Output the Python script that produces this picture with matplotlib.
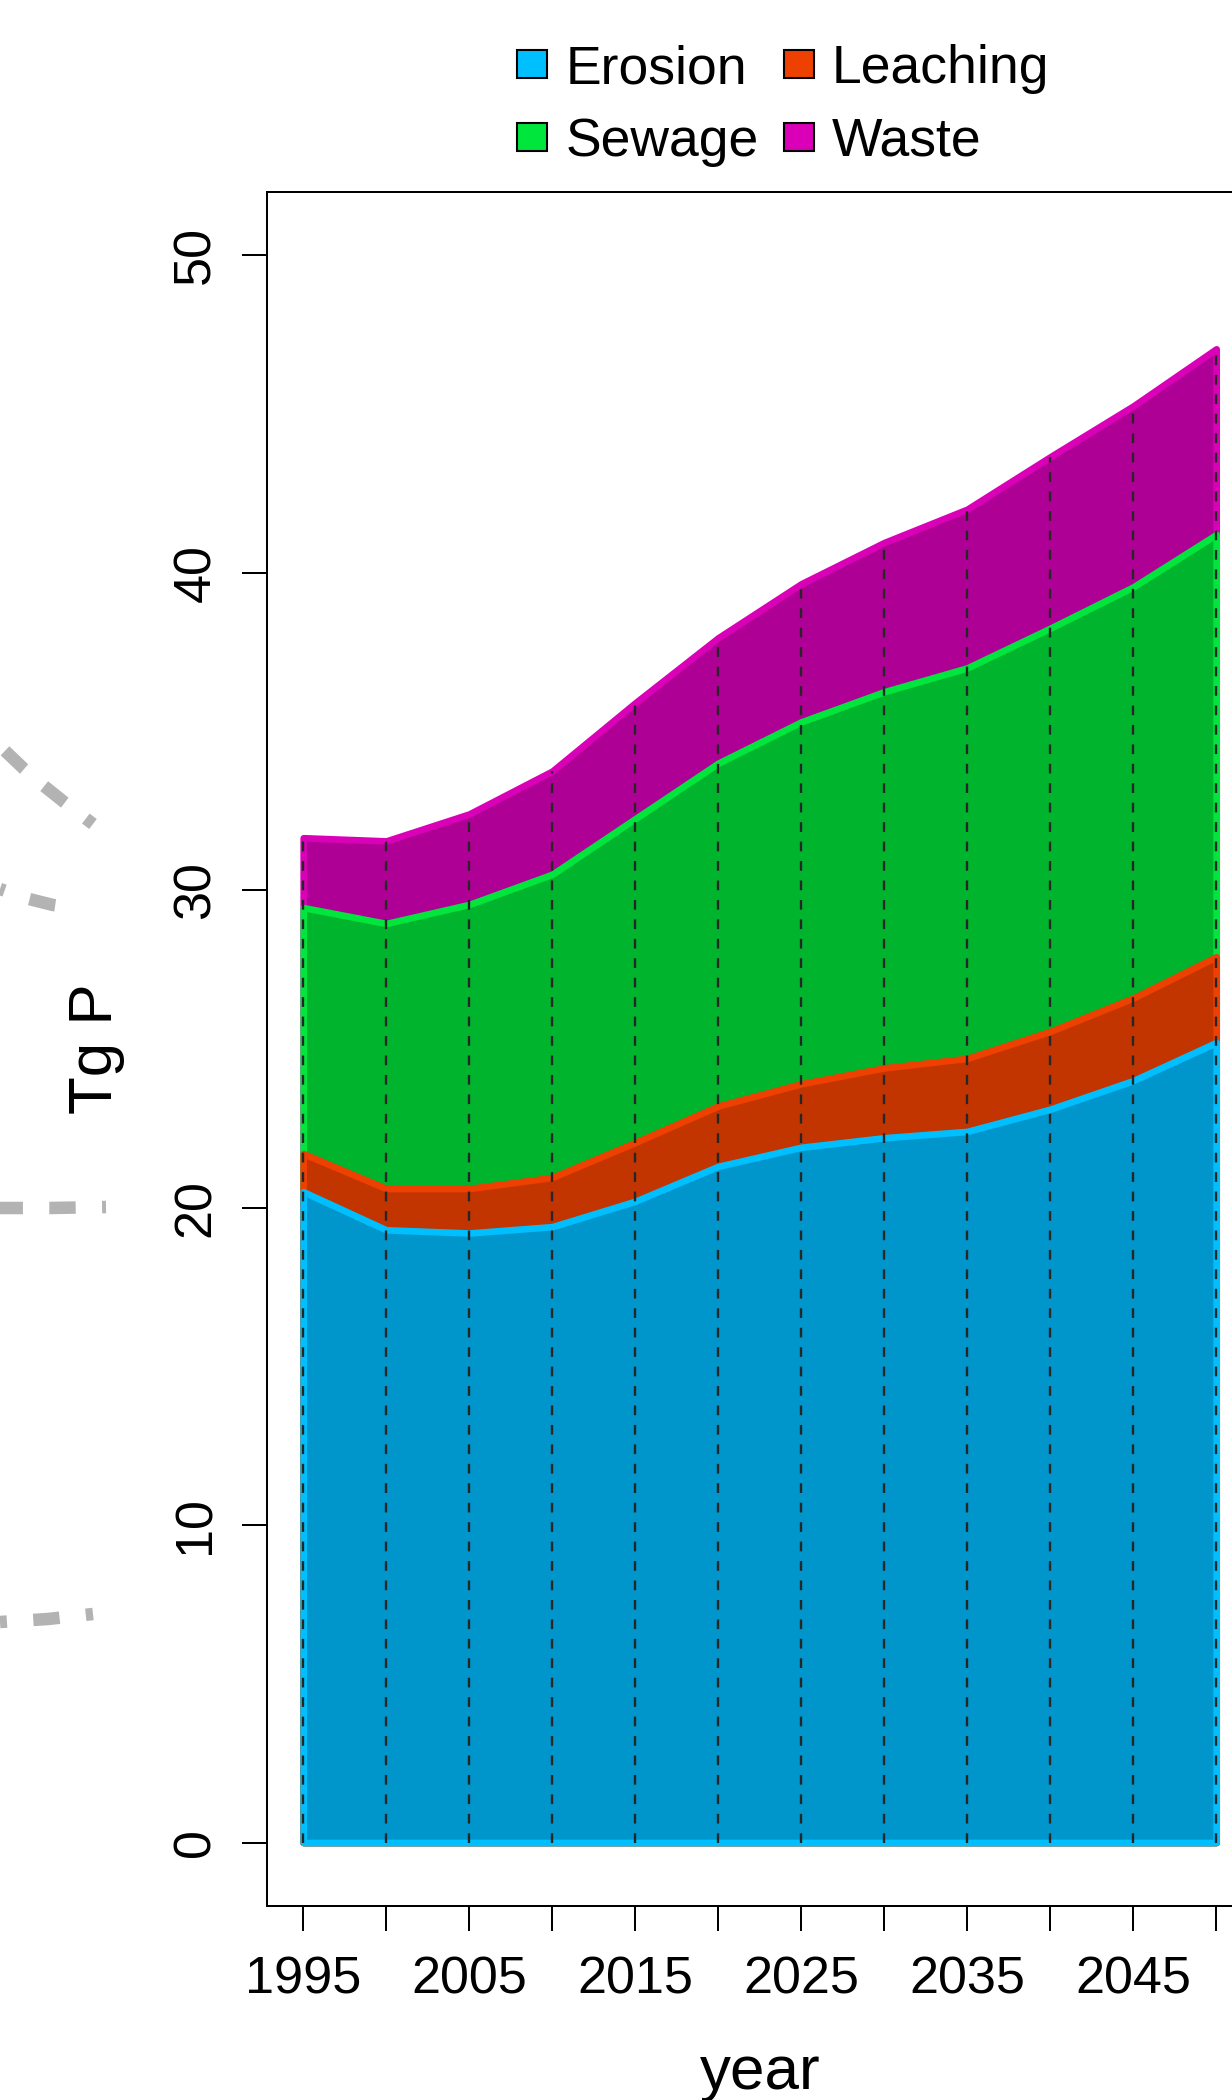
import numpy as np
import matplotlib.pyplot as plt
from matplotlib.patches import Patch

plt.rcParams['font.family'] = ['Liberation Sans', 'DejaVu Sans']
plt.rcParams['lines.scale_dashes'] = False

# phosphorus loads by source (Tg P), 1995-2050
years = np.arange(1995, 2051, 5)
erosion = np.array([20.5, 19.3, 19.2, 19.4, 20.2, 21.3, 21.9, 22.2, 22.4, 23.1, 24.0, 25.2])
leaching = np.array([1.2, 1.3, 1.4, 1.55, 1.85, 1.9, 2.0, 2.2, 2.3, 2.45, 2.6, 2.7])
sewage = np.array([7.75, 8.35, 8.95, 9.55, 10.2, 10.8, 11.4, 11.85, 12.3, 12.7, 12.95, 13.3])
waste = np.array([2.2, 2.6, 2.85, 3.25, 3.65, 3.95, 4.35, 4.7, 5.0, 5.4, 5.7, 5.85])

sources = ["Erosion", "Leaching", "Sewage", "Waste"]
fill_cols = ["#0096CC", "#C23400", "#00B52D", "#AF0095"]
line_cols = ["#00BFFF", "#EE4000", "#00E63C", "#D900B8"]

y_ticks = [0, 10, 20, 30, 40, 50]
x_ticks = np.arange(1995, 2051, 5)
x_labels = [str(y) if (y - 1995) % 10 == 0 and y < 2050 else "" for y in x_ticks]

# grey dashed arcs from the neighbouring panel (figure pixels)
arc_a_x = [0, 23, 44, 64, 93]
arc_a_y = [746, 768, 786, 802, 824]
arc_b_x = [0, 29, 53, 60]
arc_b_y = [889, 899, 905, 906]
arc_c_x = [0, 50, 106]
arc_c_y = [1208, 1208, 1207]
arc_d_x = [0, 48, 93]
arc_d_y = [1622, 1619, 1614]
arc_offsets = [33, 15.5, 2.5, 14]

W, H = 1232, 2100
fig = plt.figure(figsize=(W / 100, H / 100), dpi=100)

bg = fig.add_axes([0, 0, 1, 1], zorder=0)
bg.set_xlim(0, W)
bg.set_ylim(H, 0)
bg.axis("off")
for xs, ys, off in zip([arc_a_x, arc_b_x, arc_c_x, arc_d_x],
                       [arc_a_y, arc_b_y, arc_c_y, arc_d_y], arc_offsets):
    bg.plot(xs, ys, color="#B3B3B3", lw=9, solid_capstyle="butt",
            dash_capstyle="butt", linestyle=(off, (19, 19)))

ax = fig.add_axes([266.7 / W, 194 / H, 986 / W, (1906 - 191.7) / H], zorder=1)
ax.set_xlim(1992.8, 2052.2)
ax.set_ylim(-2, 52)

stack = np.cumsum(np.vstack([erosion, leaching, sewage, waste]), axis=0)
# draw the tallest layer first so each lower layer sits on top
for i in range(3, -1, -1):
    ax.fill_between(years, 0, stack[i], facecolor=fill_cols[i],
                    edgecolor=line_cols[i], lw=4.8, zorder=2 + (3 - i))

ax.vlines(years, 0, stack[3], colors="#262626", lw=1.7,
          linestyles=[(0, (7, 7))], zorder=10)

ax.set_yticks(y_ticks, [str(v) for v in y_ticks], rotation=90,
              rotation_mode="anchor", ha="center", va="baseline")
ax.set_xticks(x_ticks, x_labels, va="baseline")
ax.tick_params(axis="y", length=18, width=1.44, pad=23, labelsize=37.5)
ax.tick_params(axis="x", length=18, width=1.44, pad=45, labelsize=37.5)
for s in ax.spines.values():
    s.set_linewidth(1.44)

fig.text(760 / W, 1 - 2089 / H, "year", ha="center", va="baseline", fontsize=44.6)
fig.text(112 / W, 1 - 1049 / H, "Tg P", rotation=90, rotation_mode="anchor",
         ha="center", va="baseline", fontsize=44.6)

handles = [Patch(facecolor=line_cols[i], edgecolor="black", lw=1.5) for i in [0, 2, 1, 3]]
labels = [sources[i] for i in [0, 2, 1, 3]]
fig.legend(handles, labels, ncol=2, loc="upper left",
           bbox_to_anchor=(517 / W, 1 - 44 / H), frameon=False, fontsize=38.5,
           handlelength=0.57, handleheight=0.45, handletextpad=0.33,
           columnspacing=0.47, labelspacing=0.43, borderpad=0, borderaxespad=0)

fig.savefig("out.png", dpi=100)
